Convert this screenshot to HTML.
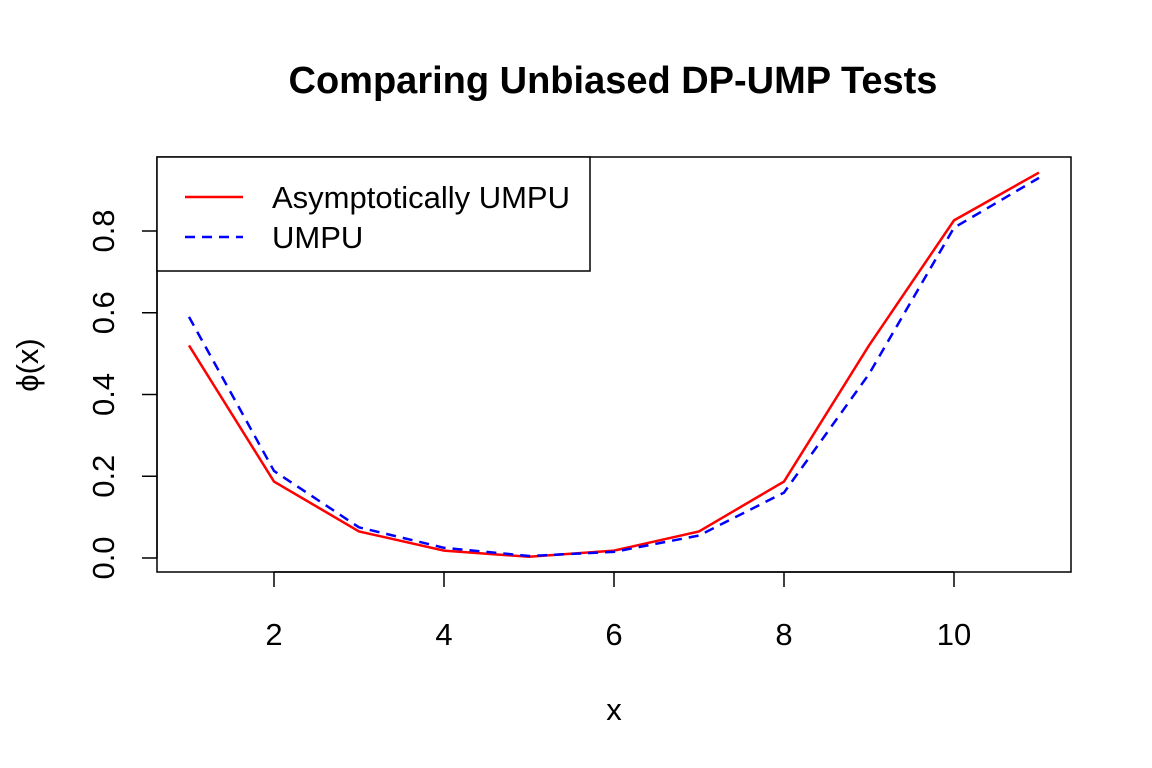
<!DOCTYPE html>
<html><head><meta charset="utf-8"><style>
html,body{margin:0;padding:0;background:#fff;}
svg{display:block;font-family:"Liberation Sans",Arial,sans-serif;}
</style></head><body>
<svg id="chart" width="1152" height="768" viewBox="0 0 1152 768" xmlns="http://www.w3.org/2000/svg">
<rect width="1152" height="768" fill="#fff"/>
<text x="613" y="93" text-anchor="middle" font-size="38" font-weight="bold">Comparing Unbiased DP-UMP Tests</text>
<rect x="157" y="157" width="914" height="415" fill="none" stroke="#000" stroke-width="1.5"/>
<g id="xaxis"></g>
<g id="yaxis"></g>
<text x="614" y="720" text-anchor="middle" font-size="31">x</text>
<text transform="translate(38,365) rotate(-90)" text-anchor="middle" font-size="31">ϕ(x)</text>
<g id="series"></g>
<g>
<rect x="157" y="157" width="433" height="114" fill="#fff" stroke="#000" stroke-width="1.5"/>
<line x1="185" y1="197" x2="243" y2="197" stroke="#ff0000" stroke-width="2.5"/>
<text x="272" y="208" font-size="31">Asymptotically UMPU</text>
<line x1="185" y1="237" x2="243" y2="237" stroke="#0000ff" stroke-width="2.5" stroke-dasharray="10,7"/>
<text x="272" y="248" font-size="31">UMPU</text>
</g>
</svg>
<script>
const xs = [1,2,3,4,5,6,7,8,9,10,11];
const asymp = [0.52,0.187,0.065,0.018,0.003,0.018,0.065,0.187,0.52,0.826,0.943];
const umpu = [0.59,0.213,0.075,0.025,0.005,0.015,0.055,0.16,0.45,0.808,0.93];
const xTicks = [2,4,6,8,10];
const yTicks = [0.0,0.2,0.4,0.6,0.8];
const yTickLabels = ["0.0","0.2","0.4","0.6","0.8"];
const NS="http://www.w3.org/2000/svg";
function sx(v){return 189+(v-1)*85;}
function sy(v){return 558-v*408.75;}
function mk(tag,attrs,parent){const e=document.createElementNS(NS,tag);for(const k in attrs)e.setAttribute(k,attrs[k]);parent.appendChild(e);return e;}
const xa=document.getElementById('xaxis'), ya=document.getElementById('yaxis'), sg=document.getElementById('series');
mk('line',{x1:sx(xTicks[0]),x2:sx(xTicks[xTicks.length-1]),y1:572,y2:572,stroke:'#000','stroke-width':1.5},xa);
xTicks.forEach(t=>{
  const l=mk('line',{x1:sx(t),x2:sx(t),y1:572,y2:587,stroke:'#000','stroke-width':1.5},xa);
  
  
  const tx=mk('text',{x:sx(t),y:645,'text-anchor':'middle','font-size':31},xa);
  tx.textContent=t;
  
  
});
mk('line',{x1:157,x2:157,y1:sy(yTicks[0]),y2:sy(yTicks[yTicks.length-1]),stroke:'#000','stroke-width':1.5},ya);
yTicks.forEach((t,i)=>{
  const l=mk('line',{x1:142,x2:157,y1:sy(t),y2:sy(t),stroke:'#000','stroke-width':1.5},ya);
  
  
  const tx=mk('text',{transform:`translate(114,${sy(t)}) rotate(-90)`,'text-anchor':'middle','font-size':31},ya);
  tx.textContent=yTickLabels[i];
  
  
});
function pts(arr){return arr.map((v,i)=>sx(xs[i])+','+sy(v)).join(' ');}
const r=mk('polyline',{points:pts(asymp),fill:'none',stroke:'#ff0000','stroke-width':2.5},sg);


const b=mk('polyline',{points:pts(umpu),fill:'none',stroke:'#0000ff','stroke-width':2.5,'stroke-dasharray':'10,7'},sg);


</script>
</body></html>
